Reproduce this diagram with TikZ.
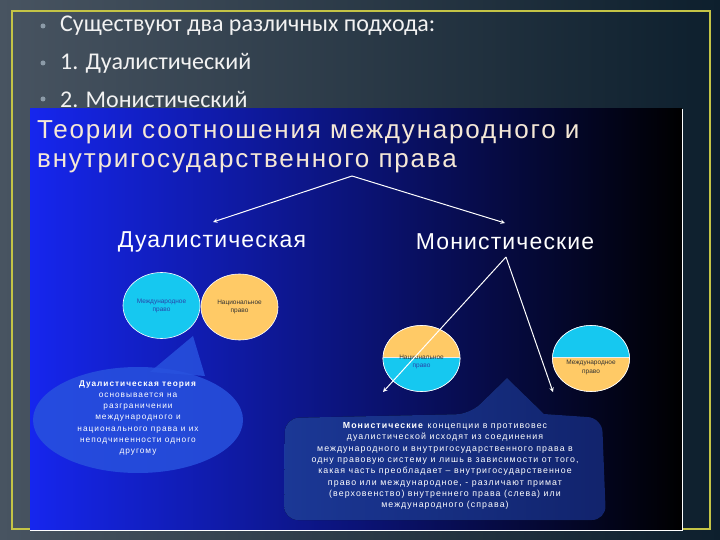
\documentclass[tikz,border=0pt]{standalone}
\usepackage{fontspec}
\setmainfont{Liberation Sans}
\newfontfamily\slidefont{Carlito}
\newfontfamily\widefont[LetterSpace=12]{Liberation Sans}
\newfontfamily\titlefont[LetterSpace=7]{Liberation Sans}
\newfontfamily\spacedfont[LetterSpace=5]{Liberation Sans}
\usetikzlibrary{shapes.geometric}

\definecolor{slateleft}{RGB}{72,84,97}
\definecolor{slateright}{RGB}{13,31,45}
\definecolor{frameyellow}{RGB}{196,196,70}
\definecolor{bulletgray}{RGB}{140,155,168}
\definecolor{boardleft}{RGB}{22,38,238}
\definecolor{boardmid}{RGB}{8,10,125}
\definecolor{titlecream}{RGB}{245,232,214}
\definecolor{lawcyan}{RGB}{22,200,240}
\definecolor{laworange}{RGB}{255,202,102}
\definecolor{lawblue}{RGB}{40,70,170}
\definecolor{calloutleft}{RGB}{40,82,222}
\definecolor{calloutA}{RGB}{30,62,165}
\definecolor{calloutB}{RGB}{20,40,120}

\tikzset{
  bullet/.style={circle, fill=bulletgray, minimum size=5pt, inner sep=0pt},
  bullettext/.style={anchor=west, inner sep=0pt, text=white!90!gray, font=\slidefont\fontsize{24}{26}\selectfont},
  lawcircle/.style={ellipse, draw=white, line width=0.6pt, minimum width=77pt, minimum height=66pt, inner sep=0pt, align=center, font=\fontsize{6.5}{8}\selectfont},
  heading/.style={inner sep=0pt, text=white, font=\spacedfont\fontsize{23}{26}\selectfont},
  note/.style={inner sep=0pt, align=center, text=white, font=\widefont\fontsize{8.3}{11.3}\selectfont}
}

\begin{document}
\begin{tikzpicture}[>=stealth, x=1pt, y=-1pt]
  \useasboundingbox (0,0) rectangle (720,540);

  % Slide
  \fill[left color=slateleft, right color=slateright] (0,0) rectangle (720,540);
  \draw[frameyellow, line width=1.6pt] (12,11) rectangle (710,529);

  % Bullets
  \node[bullet] at (43,26) (b1) {};
  \node[bullet] at (43,63) (b2) {};
  \node[bullet] at (43,99) (b3) {};
  \node[bullettext] at (60,26) (t1) {Существуют два различных подхода:};
  \node[bullettext] at (60,63) (t2) {1. Дуалистический};
  \node[bullettext] at (60,99) (t3) {2. Монистический};

  % Board
  \fill[left color=boardleft, middle color=boardmid, right color=black] (30,109) rectangle (682,530);
  \draw[white, line width=1pt] (682,109) -- (682,530) -- (30,530);

  % Title
  \node[anchor=north west, inner sep=0pt, align=left, text=titlecream,
        font=\titlefont\fontsize{26}{29.5}\selectfont] at (37,120) (title)
        {Теории соотношения международного и\\внутригосударственного права};

  % Callouts
  \fill[calloutleft, opacity=0.85] (138,420) ellipse (105 and 53);
  \fill[calloutleft, opacity=0.85] (150,372) -- (193,336) -- (205,376) -- cycle;
  \fill[left color=calloutA, right color=calloutB, opacity=0.9]
        [rounded corners=14pt] (285,418) -- (470,414)
        [sharp corners] -- (507,378) -- (544,414)
        [rounded corners=14pt] -- (602,418) -- (606,520) -- (284,520) -- cycle;

  % Nodes
  \coordinate (fork) at (352,176);
  \node[heading] at (212,242) (dual) {Дуалистическая};
  \node[heading] at (505,242) (mono) {Монистические};
  \coordinate (monofork) at (506,257);

  \node[lawcircle, fill=lawcyan, text=lawblue] at (161.5,305.5) (intl) {Международное\\право};
  \node[lawcircle, fill=laworange, text=black!80] at (239.5,307) (natl) {Национальное\\право};

  \node[lawcircle] at (421.5,358.5) (natfirst) {};
  \node[lawcircle] at (591,358.5) (intfirst) {};
  \begin{scope}
    \clip (natfirst.center) ellipse (38.5 and 33);
    \fill[laworange] (383,320) rectangle (461,357);
    \fill[lawcyan] (383,357) rectangle (461,395);
  \end{scope}
  \begin{scope}
    \clip (intfirst.center) ellipse (38.5 and 33);
    \fill[lawcyan] (552,320) rectangle (630,357);
    \fill[laworange] (552,357) rectangle (630,395);
  \end{scope}
  \draw[white, line width=0.6pt] (natfirst.center) ellipse (38.5 and 33);
  \draw[white, line width=0.6pt] (intfirst.center) ellipse (38.5 and 33);
  \draw[white!85!gray, line width=1pt] (383,357) -- (460,357);
  \draw[white!85!gray, line width=1pt] (553,357) -- (629,357);
  \node[align=center, font=\fontsize{6.5}{8}\selectfont, inner sep=0pt] at (421.5,362)
        {\textcolor{black!80}{Национальное}\\\textcolor{lawblue}{право}};
  \node[align=center, font=\fontsize{6.5}{9}\selectfont, inner sep=0pt, text=black!80] at (591,367)
        {Международное\\право};
  \coordinate (natend) at (383,392);
  \coordinate (intend) at (553,392);

  % Edges
  \draw[->, white, line width=1pt] (fork) -- (213,222);
  \draw[->, white, line width=1pt] (fork) -- (505,223);
  \draw[->, white, line width=1pt] (monofork) -- (natend);
  \draw[->, white, line width=1pt] (monofork) -- (intend);

  % Notes
  \node[note] at (138,418) (dualnote)
        {\textbf{Дуалистическая теория}\\основывается на\\разграничении\\международного и\\национального права и их\\неподчиненности одного\\другому};
  \node[note, font=\widefont\fontsize{8.8}{11.3}\selectfont] at (445,466) (mononote)
        {\textbf{Монистические} концепции в противовес\\дуалистической исходят из соединения\\международного и внутригосударственного права в\\одну правовую систему и лишь в зависимости от того,\\какая часть преобладает – внутригосударственное\\право или международное, - различают примат\\(верховенство) внутреннего права (слева) или\\международного (справа)};
\end{tikzpicture}
\end{document}
